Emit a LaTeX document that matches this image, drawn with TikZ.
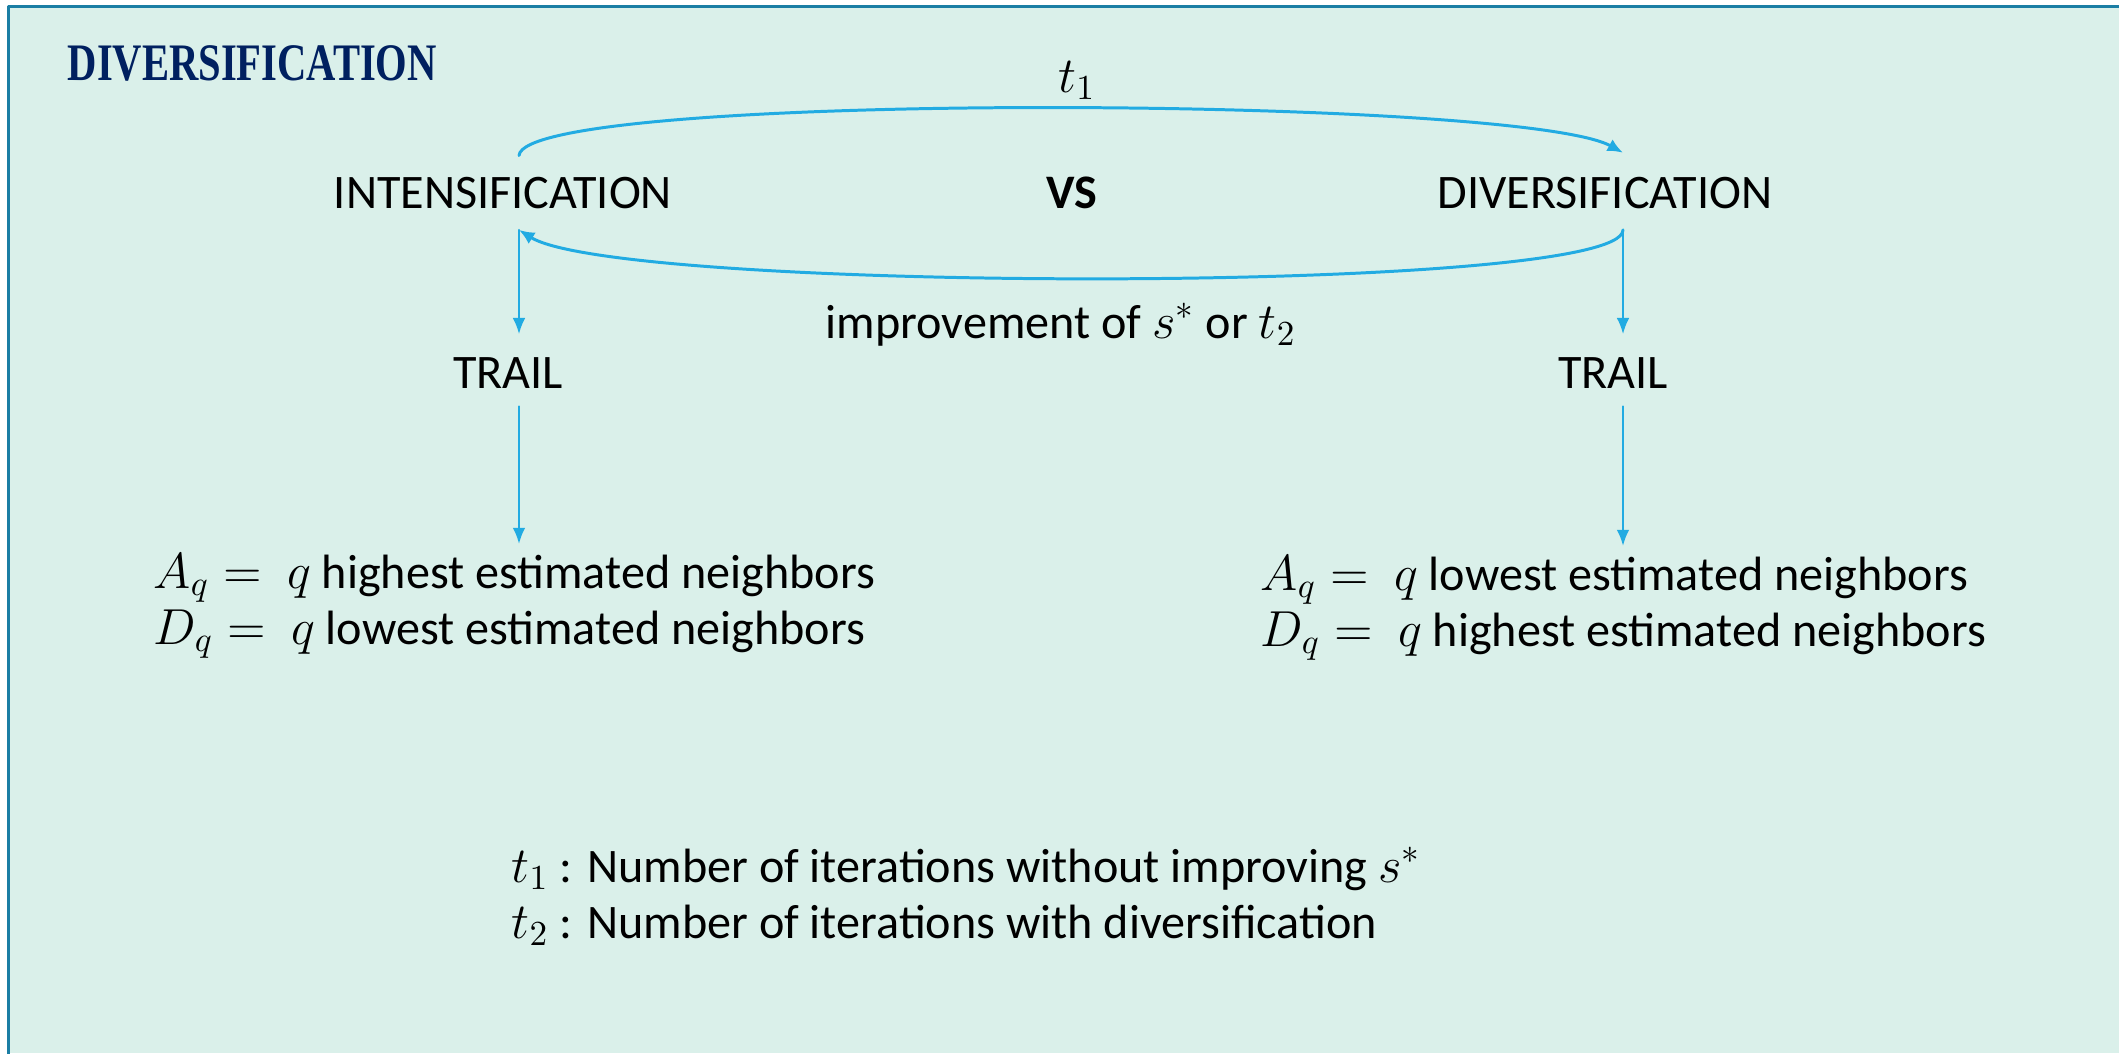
\documentclass[tikz,border=0pt]{standalone}
\usepackage{fontspec}
\setmainfont{Carlito}
\newfontfamily\titlefont{Liberation Serif}
\usepackage{tikz}
\usetikzlibrary{arrows.meta,positioning}
\definecolor{dvFill}{HTML}{DAF0EA}
\definecolor{dvFrame}{HTML}{1B7EA4}
\definecolor{dvArrow}{HTML}{22ABE2}
\definecolor{dvTitle}{HTML}{002060}
\definecolor{dvInk}{HTML}{000000}
\tikzset{
  dv diagram/.style={font=\fontsize{13.7}{16.4}\selectfont, text=dvInk,
    line cap=round, line join=round},
  dv frame/.style={draw=dvFrame, line width=0.85pt, line cap=rect},
  dv title/.style={font=\titlefont\bfseries\fontsize{15}{18}\selectfont,
    text=dvTitle, anchor=base west, inner sep=0pt},
  dv text/.style={anchor=base},
  dv line/.style={anchor=base west, inner sep=0pt},
  dv loop/.style={-{Latex[length=4.4pt,width=3.8pt]}, draw=dvArrow,
    line width=0.85pt},
  dv arrow/.style={-{Latex[length=4.6pt,width=3.6pt]}, draw=dvArrow,
    line width=0.6pt}
}
\begin{document}
\begin{tikzpicture}[dv diagram]
\useasboundingbox (0,0) rectangle (21.19,-10.53);
\fill[white] (0,0) rectangle (21.19,-10.53);
\fill[dvFill] (0.085,-0.065) rectangle (21.19,-10.53);
\draw[dv frame] (0.085,-10.6) -- (0.085,-0.065) -- (21.3,-0.065);

\node[dv title] (title) at (0.67,-0.80) {\scalebox{0.77}[1]{DIVERSIFICATION}};

\coordinate (colL) at (5.19,0);
\coordinate (colR) at (16.23,0);

\node[dv text] (inten) at (5.03,-2.08) {INTENSIFICATION};
\node[dv text] (vs) at (10.72,-2.08) {\bfseries VS};
\node[dv text] (diver) at (16.05,-2.08) {DIVERSIFICATION};
\node[dv text] (tone) at (10.77,-0.92) {$t_1$};
\node[dv text] (impr) at (10.61,-3.38) {improvement of $s^*$ or $t_2$};
\node[dv text] (trailL) at (5.08,-3.88) {TRAIL};
\node[dv text] (trailR) at (16.13,-3.88) {TRAIL};

\node[dv line] (aqL) at (1.53,-5.88) {$A_q =\ q$ highest estimated neighbors};
\node[dv line] (dqL) at (1.53,-6.44) {$D_q =\ q$ lowest estimated neighbors};
\node[dv line] (aqR) at (12.60,-5.90) {$A_q =\ q$ lowest estimated neighbors};
\node[dv line] (dqR) at (12.60,-6.46) {$D_q =\ q$ highest estimated neighbors};

\node[dv line] (defone) at (5.11,-8.82) {$t_1$ : Number of iterations without improving $s^*$};
\node[dv line] (deftwo) at (5.11,-9.38) {$t_2$ : Number of iterations with diversification};

\draw[dv loop] ([yshift=2.5pt]inten.north -| colL)
  .. controls +(0.05,0.65) and +(-1.03,0.57) .. ([yshift=3.3pt]diver.north -| colR);
\draw[dv loop] ([yshift=-2.6pt]diver.south -| colR)
  .. controls +(0,-0.65) and +(1.0,-0.63) .. ([yshift=-2.6pt]inten.south -| colL);
\draw[dv arrow] ([yshift=-2.6pt]inten.south -| colL) -- ([yshift=3pt]trailL.north -| colL);
\draw[dv arrow] ([yshift=-2.6pt]diver.south -| colR) -- ([yshift=3pt]trailR.north -| colR);
\draw[dv arrow] ([yshift=-1.7pt]trailL.south -| colL) -- ([yshift=2.5pt]aqL.north -| colL);
\draw[dv arrow] ([yshift=-1.7pt]trailR.south -| colR) -- ([yshift=2.5pt]aqR.north -| colR);
\end{tikzpicture}
\end{document}
